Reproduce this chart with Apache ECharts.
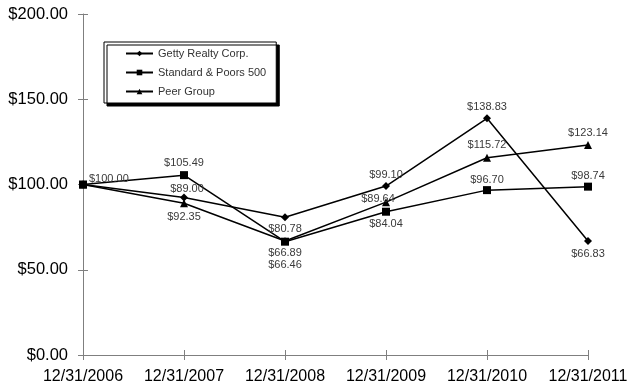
<!DOCTYPE html>
<html>
<head>
<meta charset="utf-8">
<script src="https://cdn.jsdelivr.net/npm/echarts@6/dist/echarts.min.js"></script>
<style>
html,body{margin:0;padding:0;background:#fff;}
#c{width:633px;height:392px;}
</style>
</head>
<body>
<div id="c"></div>
<script>
var categories = ['12/31/2006','12/31/2007','12/31/2008','12/31/2009','12/31/2010','12/31/2011'];
var gettyValues = [100.00, 92.35, 80.78, 99.10, 138.83, 66.83];
var spValues = [100.00, 105.49, 66.46, 84.04, 96.70, 98.74];
var peerValues = [100.00, 89.00, 66.89, 89.64, 115.72, 123.14];
var yTicks = [0, 50, 100, 150, 200];

// label placement (style only)
var gettyLbl = [null, ['bottom',10,[0,0]], ['bottom',2,[0,0]], ['top',2,[0,0]], ['top',2,[0,0]], ['bottom',3,[0,0]]];
var spLbl = [['right',2,[0,-6]], ['top',3,[0,0]], ['bottom',14,[0,0]], ['bottom',3,[0,0]], ['top',1,[0,0]], ['top',1,[0,0]]];
var peerLbl = [null, ['top',5,[3,0]], ['bottom',3,[0,0]], ['top',0,[-8,6]], ['top',3,[0,0]], ['top',3,[0,0]]];

function mk(vals, cfg){
  return vals.map(function(v,i){
    var c = cfg[i];
    if(!c) return {value:v, label:{show:false}};
    return {value:v, label:{show:true, position:c[0], distance:c[1], offset:c[2]}};
  });
}
var lblStyle = {show:true, color:'#3a3a3a', fontSize:11, fontFamily:'Liberation Sans, Arial', formatter:function(p){return '$'+p.value.toFixed(2);}};

var chart = echarts.init(document.getElementById('c'), null, {renderer:'canvas'});
var axisColor = '#7f7f7f';
var option = {
  animation:false,
  backgroundColor:'#fff',
  textStyle:{fontFamily:'Liberation Sans, Arial'},
  grid:{left:83, right:45, top:14, bottom:37, containLabel:false},
  legend:{
    left:104, top:42, orient:'vertical',
    padding:[6,10,6,21], itemGap:8, itemWidth:27, itemHeight:7,
    backgroundColor:'#fff', borderColor:'#000', borderWidth:1,
    shadowColor:'#000', shadowBlur:0, shadowOffsetX:3, shadowOffsetY:3,
    textStyle:{color:'#333', fontSize:11, fontFamily:'Liberation Sans, Arial', padding:[0,0,0,0]},
    itemStyle:{color:'#000'},
    data:['Getty Realty Corp.','Standard & Poors 500','Peer Group']
  },
  xAxis:[{
    type:'category', data:categories, boundaryGap:false,
    axisLine:{lineStyle:{color:axisColor, width:1}},
    axisTick:{show:true, length:5, inside:false, lineStyle:{color:axisColor}},
    axisLabel:{color:'#000', fontSize:16, margin:14, fontFamily:'Liberation Sans, Arial', interval:0},
    splitLine:{show:false}
  },{
    type:'category', data:categories, boundaryGap:false, position:'bottom',
    axisLine:{show:false},
    axisTick:{show:true, length:5, inside:true, lineStyle:{color:axisColor}},
    axisLabel:{show:false}, splitLine:{show:false}
  }],
  yAxis:[{
    type:'value', min:0, max:200, interval:50,
    axisLine:{show:true, lineStyle:{color:axisColor, width:1}},
    axisTick:{show:true, length:5, inside:false, lineStyle:{color:axisColor}},
    axisLabel:{color:'#000', fontSize:16.5, margin:15, fontFamily:'Liberation Sans, Arial',
      formatter:function(v){return yTicks.indexOf(v)>=0 ? '$'+v.toFixed(2) : '';}},
    splitLine:{show:false}
  },{
    type:'value', min:0, max:200, interval:50, position:'left',
    axisLine:{show:false},
    axisTick:{show:true, length:5, inside:true, lineStyle:{color:axisColor}},
    axisLabel:{show:false}, splitLine:{show:false}
  }],
  series:[
    {name:'Getty Realty Corp.', type:'line', data:mk(gettyValues, gettyLbl), symbol:'diamond', symbolSize:8,
      lineStyle:{color:'#000', width:1.5}, itemStyle:{color:'#000'}, label:lblStyle, z:3},
    {name:'Standard & Poors 500', type:'line', data:mk(spValues, spLbl), symbol:'rect', symbolSize:8,
      lineStyle:{color:'#000', width:1.5}, itemStyle:{color:'#000'}, label:lblStyle, z:3},
    {name:'Peer Group', type:'line', data:mk(peerValues, peerLbl), symbol:'triangle', symbolSize:8,
      lineStyle:{color:'#000', width:1.5}, itemStyle:{color:'#000'}, label:lblStyle, z:3}
  ]
};
chart.setOption(option);
</script>
</body>
</html>
